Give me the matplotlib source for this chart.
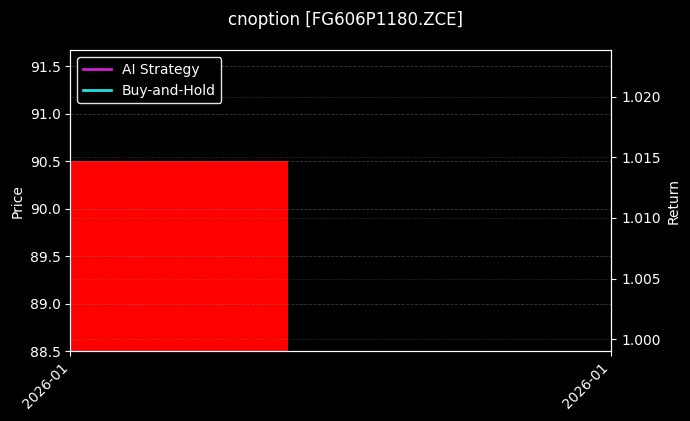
import numpy as np
import pandas as pd
import matplotlib
matplotlib.use('Agg')
import matplotlib.pyplot as plt
import matplotlib.dates as mdates

# data
title = 'cnoption [FG606P1180.ZCE]'
dates = pd.to_datetime(['2026-01-05'])
price_low = [88.5]
price_high = [90.5]
ai_return = [1.0]
bh_return = [1.0]

plt.style.use('dark_background')
fig, ax = plt.subplots(figsize=(6.9, 4.21), dpi=100)
fig.subplots_adjust(left=0.102, right=0.886, top=0.881, bottom=0.166)

x = mdates.date2num(dates)
ax.bar(x, np.array(price_high) - np.array(price_low), bottom=price_low,
       width=0.806, align='edge', color='red')
ax.set_xlim(x[0], x[0] + 2)
ax.set_ylim(88.5, 91.67)
ax.set_ylabel('Price')
ax.grid(True, axis='y', linestyle='--', linewidth=0.6, color='gray', alpha=0.45)

ax2 = ax.twinx()
ax2.plot(x, ai_return, color='#d020d0', linewidth=2, label='AI Strategy')
ax2.plot(x, bh_return, color='#20e0e0', linewidth=2, label='Buy-and-Hold')
ax2.set_ylim(0.99901, 1.02385)
ax2.set_ylabel('Return')
ax2.grid(True, linestyle=':', linewidth=0.6, color='gray', alpha=0.45)

ax.set_xticks([x[0], x[0] + 2])
ax.xaxis.set_major_formatter(mdates.DateFormatter('%Y-%m'))
plt.setp(ax.get_xticklabels(), rotation=45, ha='right')

leg = ax2.legend(loc='upper left', facecolor='black', edgecolor='white', framealpha=0.9)

fig.suptitle(title, fontsize=12, y=0.975)
plt.savefig('out.png', dpi=100)
